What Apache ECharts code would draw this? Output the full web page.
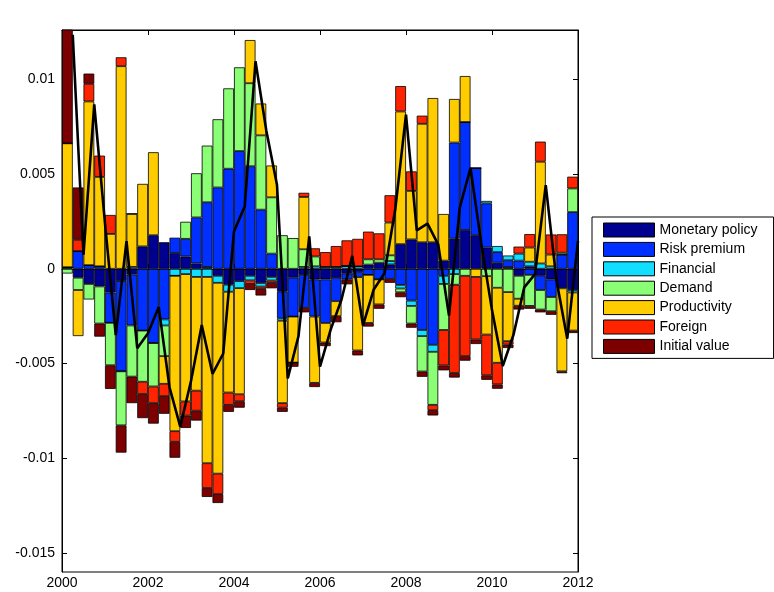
<!DOCTYPE html>
<html>
<head>
<meta charset="utf-8">
<script src="https://cdn.jsdelivr.net/npm/echarts@6/dist/echarts.min.js"></script>
<style>html,body{margin:0;padding:0;background:#fff;}#c{width:774px;height:592px;}</style>
</head>
<body>
<div id="c"></div>
<script>
// values in units of 0.001, one per quarter 2000Q1..2011Q4
var seriesNames = ['Monetary policy','Risk premium','Financial','Demand','Productivity','Foreign','Initial value'];
var monetary = [0.08,-0.47,-0.8,-0.93,-1.25,-0.65,-0.3,1.18,1.77,1.4,0.84,0.65,0.28,0.1,-0.37,-0.84,-0.65,-0.37,-0.75,-0.43,-1.21,-0.47,-0.32,-0.56,-0.56,-0.48,-0.26,-0.18,0.22,0.32,0.23,1.3,1.55,1.4,1.4,0.43,1.59,2.05,1.77,1.12,0.32,0.1,-0.37,0.13,-0.37,-0.56,-1.03,-1.12];
var risk = [0,0.93,0.19,0.13,-1.6,-4.76,-2.69,-3.26,-3.92,-2.67,0.8,0.93,2.43,3.41,4.29,5.28,6.21,5.41,3.12,0.8,-1.4,-2.05,-1.74,-1.96,-2.3,-1.23,-0.3,-0.26,-0.32,-0.56,-0.53,-0.85,-1.68,-3.23,-4.01,-0.37,5.07,5.69,3.54,2.33,0.56,0.35,0.43,-0.32,-0.75,-0.93,0.75,2.99];
var financial = [0,0,0,0,0,0,0.1,0,0,-0.32,-0.37,-0.28,-0.43,-0.43,-0.37,-0.37,-0.37,-0.24,-0.19,-0.19,-0.13,0,0.1,0.13,0.1,0.1,0.15,0.13,0,0,0.18,-0.19,-0.28,-0.32,-0.37,-0.43,-0.28,0,0,0.13,0.32,0.25,0.37,0.24,0.28,0.13,0,-0.13];
var demand = [-0.25,-0.65,-0.82,-1.96,-2.24,-2.85,-2.7,-2.7,-2.29,-1.62,0,0.9,2.33,2.99,3.6,4.24,4.42,4.38,3.92,2.97,1.77,1.62,0.93,0.52,0,0,0,0,0.28,0.18,0.3,-0.2,-0.93,-1.87,-2.8,-2.43,-0.56,-0.37,0,-0.39,-1.0,-1.23,-1.21,-1.64,-1.03,-0.75,0.1,1.25];
var productivity = [6.54,-2.43,8.64,4.72,1.84,10.69,2.8,3.3,4.38,-1.46,-8.2,-6.72,-6.0,-9.83,-10.07,-5.32,-5.6,2.28,1.68,1.68,-4.35,-2.43,2.76,-3.5,-1.03,-0.79,0,-3.87,-2.54,-1.32,1.73,7.0,2.56,6.25,7.61,2.46,2.3,2.43,-0.43,-3.08,-3.96,-2.59,-0.37,0.75,5.37,0.62,-4.38,-2.01];
var foreign = [0,0.6,0.93,1.12,1.0,0.47,0,-0.65,-0.88,-0.65,-0.56,-0.75,-1.06,-1.31,-1.08,-0.65,-0.37,-0.19,-0.13,-0.13,-0.24,0,0.22,0.43,0.78,1.1,1.35,1.45,1.46,1.37,1.44,1.34,1.03,0.43,-0.28,-1.87,-4.66,-4.24,-3.3,-2.15,-1.14,-0.18,0.37,0.71,1.06,1.06,0.97,0.62];
var initial = [6.0,2.76,0.54,-0.69,-1.25,-1.44,-1.4,-1.27,-1.08,-0.93,-0.84,-0.65,-0.52,-0.47,-0.47,-0.37,-0.34,-0.32,-0.34,-0.28,-0.22,-0.22,-0.24,-0.22,-0.19,-0.32,-0.26,-0.26,-0.19,-0.23,-0.21,-0.26,-0.22,-0.28,-0.28,-0.26,-0.24,-0.24,-0.24,-0.24,-0.23,-0.18,-0.2,-0.15,-0.15,-0.19,-0.1,-0.13];
var total = [12.35,0.74,8.68,2.39,-3.5,1.46,-4.19,-3.4,-2.02,-6.25,-8.33,-5.92,-2.97,-5.54,-4.47,1.97,3.3,10.95,7.31,4.42,-5.78,-3.55,1.71,-5.16,-3.2,-1.62,0.68,-2.99,-1.09,-0.24,3.14,8.14,2.03,2.38,1.27,-2.47,3.22,5.32,1.34,-2.18,-5.13,-3.48,-0.98,-0.28,4.41,-0.62,-3.69,1.47];
var yTicks = [-15,-10,-5,0,5,10];
var colors = ['#00008E','#0030FF','#12DEFF','#8AFF75','#FFCC00','#FF2400','#7C0000'];

var comps = [monetary, risk, financial, demand, productivity, foreign, initial];
var quarters = [];
for (var y = 2000; y < 2012; y++) { for (var q = 1; q <= 4; q++) quarters.push(y + 'Q' + q); }
var FONT = "'Liberation Sans', Arial, Helvetica, sans-serif";

var series = comps.map(function(arr, k){
  return {
    name: seriesNames[k], type: 'bar', stack: 'all', stackStrategy: 'samesign', barWidth: '100%',
    xAxisIndex: 0, yAxisIndex: 0,
    itemStyle: {color: colors[k], borderColor: '#000', borderWidth: 0.8},
    emphasis: {disabled: true},
    data: arr
  };
});
// line vertices sit at the end of each quarter
series.push({
  name: 'Total', type: 'line', xAxisIndex: 1, yAxisIndex: 0, z: 10,
  symbol: 'none', lineStyle: {color: '#000', width: 2.6}, itemStyle: {color: '#000'},
  data: total.map(function(v, i){ return [2000 + 0.25 * (i + 1), v]; })
});

var fmtY = function(v){ return String(+(v / 1000).toFixed(4)); };
var chart = echarts.init(document.getElementById('c'), null, {renderer: 'canvas'});
chart.setOption({
  animation: false,
  backgroundColor: '#fff',
  textStyle: {fontFamily: FONT},
  grid: {left: 62, right: 196, top: 30, bottom: 20, show: true, borderColor: '#000', borderWidth: 1, backgroundColor: 'transparent'},
  legend: {
    data: seriesNames, orient: 'vertical', left: 592, top: 217,
    itemWidth: 51, itemHeight: 14, itemGap: 3.4,
    padding: [5, 16, 4, 11],
    borderColor: '#000', borderWidth: 1, backgroundColor: '#fff',
    icon: 'rect',
    itemStyle: {borderColor: '#000', borderWidth: 1},
    textStyle: {fontFamily: FONT, fontSize: 14, color: '#000', lineHeight: 16},
    selectedMode: false
  },
  xAxis: [
    {type: 'category', data: quarters, boundaryGap: true, show: false},
    {type: 'value', min: 2000, max: 2012, interval: 2, position: 'bottom',
     axisLine: {show: true, lineStyle: {color: '#000', width: 1}},
     axisTick: {show: true, inside: true, length: 5, lineStyle: {color: '#000'}},
     axisLabel: {fontFamily: FONT, fontSize: 14, color: '#000', margin: 4, formatter: function(v){ return String(v); }},
     splitLine: {show: false}},
    {type: 'value', min: 2000, max: 2012, interval: 2, position: 'top',
     axisLine: {show: true, lineStyle: {color: '#000', width: 1}},
     axisTick: {show: true, inside: true, length: 5, lineStyle: {color: '#000'}},
     axisLabel: {show: false}, splitLine: {show: false}}
  ],
  yAxis: [
    {type: 'value', min: -16, max: 12.6, position: 'left',
     axisLine: {show: true, lineStyle: {color: '#000', width: 1}},
     axisTick: {show: true, inside: true, length: 5, lineStyle: {color: '#000'}, customValues: yTicks},
     axisLabel: {fontFamily: FONT, fontSize: 14, color: '#000', margin: 7, formatter: fmtY, customValues: yTicks},
     splitLine: {show: false}},
    {type: 'value', min: -16, max: 12.6, position: 'right',
     axisLine: {show: true, lineStyle: {color: '#000', width: 1}},
     axisTick: {show: true, inside: true, length: 5, lineStyle: {color: '#000'}, customValues: yTicks},
     axisLabel: {show: false, customValues: yTicks}, splitLine: {show: false}}
  ],
  series: series
});
</script>
</body>
</html>
